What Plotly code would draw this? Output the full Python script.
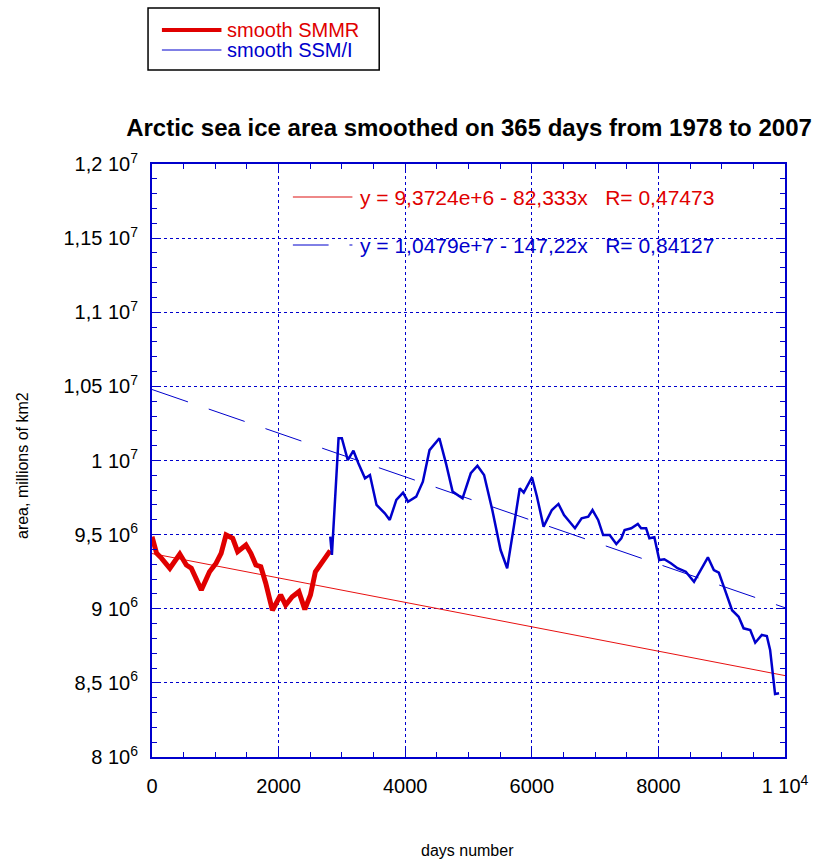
import plotly.graph_objects as go

# SMMR smoothed series (days, area km2)
smmr_days = [0, 73, 152, 282, 439, 543, 621, 779, 909, 1013, 1092, 1170, 1275, 1353, 1484,
             1562, 1641, 1719, 1797, 1902, 2032, 2111, 2215, 2320, 2414, 2503, 2581, 2685, 2816]
smmr_area = [9.486e6, 9.374e6, 9.34e6, 9.273e6, 9.369e6, 9.295e6, 9.273e6, 9.126e6, 9.25e6,
             9.307e6, 9.374e6, 9.498e6, 9.475e6, 9.385e6, 9.43e6, 9.374e6, 9.295e6, 9.284e6,
             9.172e6, 8.99e6, 9.093e6, 9.025e6, 9.081e6, 9.115e6, 8.996e6, 9.093e6, 9.25e6,
             9.317e6, 9.392e6]

# SSM/I smoothed series
ssmi_days = [2816, 2842, 2947, 2999, 3093, 3182, 3260, 3365, 3443, 3547, 3678, 3756, 3860,
             3966, 4044, 4174, 4279, 4384, 4540, 4644, 4749, 4906, 5036, 5141, 5246, 5376,
             5507, 5611, 5716, 5810, 5873, 6003, 6082, 6186, 6317, 6421, 6509, 6682, 6787,
             6892, 6959, 7048, 7127, 7230, 7335, 7414, 7466, 7571, 7675, 7727, 7806, 7858,
             7936, 8014, 8093, 8197, 8302, 8433, 8563, 8668, 8782, 8876, 8955, 9033, 9164,
             9268, 9346, 9451, 9530, 9634, 9713, 9765, 9843, 9906]
ssmi_area = [9.486e6, 9.363e6, 10.15e6, 10.15e6, 10.003e6, 10.066e6, 9.981e6, 9.88e6, 9.902e6,
             9.70e6, 9.644e6, 9.599e6, 9.734e6, 9.783e6, 9.722e6, 9.756e6, 9.857e6, 10.07e6,
             10.15e6, 9.981e6, 9.79e6, 9.745e6, 9.914e6, 9.965e6, 9.902e6, 9.666e6, 9.396e6,
             9.273e6, 9.554e6, 9.813e6, 9.783e6, 9.887e6, 9.756e6, 9.554e6, 9.666e6, 9.707e6,
             9.632e6, 9.543e6, 9.61e6, 9.621e6, 9.666e6, 9.599e6, 9.497e6, 9.497e6, 9.437e6,
             9.475e6, 9.531e6, 9.543e6, 9.572e6, 9.543e6, 9.543e6, 9.475e6, 9.482e6, 9.329e6,
             9.334e6, 9.307e6, 9.273e6, 9.25e6, 9.182e6, 9.261e6, 9.347e6, 9.261e6, 9.243e6,
             9.149e6, 8.99e6, 8.946e6, 8.868e6, 8.857e6, 8.771e6, 8.823e6, 8.816e6, 8.722e6,
             8.425e6, 8.43e6]

# Linear fits
fit_x = [0, 10000]
smmr_fit_a, smmr_fit_b = 9.3724e6, -82.333
ssmi_fit_a, ssmi_fit_b = 1.0479e7, -147.22

x_tickvals = [0, 2000, 4000, 6000, 8000, 10000]
x_ticktext = ["0", "2000", "4000", "6000", "8000", "1 10<sup>4</sup>"]
y_tickvals = [8.0e6, 8.5e6, 9.0e6, 9.5e6, 1.0e7, 1.05e7, 1.1e7, 1.15e7, 1.2e7]
y_ticktext = ["8 10<sup>6</sup>", "8,5 10<sup>6</sup>", "9 10<sup>6</sup>", "9,5 10<sup>6</sup>",
              "1 10<sup>7</sup>", "1,05 10<sup>7</sup>", "1,1 10<sup>7</sup>",
              "1,15 10<sup>7</sup>", "1,2 10<sup>7</sup>"]

RED = "#e00000"
BLUE = "#0000cc"
FONT = "Liberation Sans, Arial, sans-serif"

# plot area in pixels
L, R, T, B = 152, 790, 164, 757
W, H = R - L, B - T


def px(x):
    return (x - L) / W


def py(y):
    return (B - y) / H


fig = go.Figure()
fig.add_trace(go.Scatter(x=fit_x, y=[smmr_fit_a + smmr_fit_b * v for v in fit_x], mode="lines",
                         line=dict(color="#e81010", width=1), showlegend=False, hoverinfo="skip"))
fig.add_trace(go.Scatter(x=fit_x, y=[ssmi_fit_a + ssmi_fit_b * v for v in fit_x], mode="lines",
                         line=dict(color=BLUE, width=1, dash="38px,22px"), showlegend=False,
                         hoverinfo="skip"))
fig.add_trace(go.Scatter(x=smmr_days, y=smmr_area, mode="lines", name="smooth SMMR",
                         line=dict(color=RED, width=5), showlegend=False))
fig.add_trace(go.Scatter(x=ssmi_days, y=ssmi_area, mode="lines", name="smooth SSM/I",
                         line=dict(color=BLUE, width=2.5), showlegend=False))

axis_common = dict(showline=True, linecolor=BLUE, linewidth=2, mirror="ticks",
                   ticks="inside", tickcolor=BLUE, ticklen=8, tickwidth=1,
                   showgrid=True, gridcolor=BLUE, griddash="dot", gridwidth=1,
                   zeroline=False, tickfont=dict(size=20, color="black", family=FONT))

fig.update_xaxes(range=[0, 10000], tickvals=x_tickvals, ticktext=x_ticktext,
                 ticklabelstandoff=10,
                 minor=dict(ticks="inside", dtick=500, tick0=0, ticklen=5, tickcolor=BLUE,
                            showgrid=False),
                 **axis_common)
fig.update_yaxes(range=[8.0e6, 1.2e7], tickvals=y_tickvals, ticktext=y_ticktext,
                 ticklabelstandoff=8,
                 minor=dict(ticks="inside", dtick=1e5, tick0=8e6, ticklen=5, tickcolor=BLUE,
                            showgrid=False),
                 **axis_common)

shapes = [
    # fit legend inside plot
    dict(type="line", xref="paper", yref="paper", x0=px(294), x1=px(354),
         y0=py(197), y1=py(197), line=dict(color="#e86060", width=1.5)),
    dict(type="line", xref="paper", yref="paper", x0=px(294), x1=px(330),
         y0=py(245), y1=py(245), line=dict(color=BLUE, width=1)),
    dict(type="line", xref="paper", yref="paper", x0=px(351), x1=px(354),
         y0=py(245), y1=py(245), line=dict(color=BLUE, width=1)),
    # series legend box
    dict(type="rect", xref="paper", yref="paper", x0=px(148), x1=px(381),
         y0=py(70), y1=py(8), line=dict(color="black", width=1.5), fillcolor="white"),
    dict(type="line", xref="paper", yref="paper", x0=px(162), x1=px(222),
         y0=py(30), y1=py(30), line=dict(color=RED, width=4)),
    dict(type="line", xref="paper", yref="paper", x0=px(162), x1=px(222),
         y0=py(50), y1=py(50), line=dict(color=BLUE, width=1)),
]
annotations = [
    dict(xref="paper", yref="paper", x=px(360), y=py(197), xanchor="left",
         yanchor="middle", showarrow=False,
         text="y = 9,3724e+6 - 82,333x   R= 0,47473", font=dict(size=21, color=RED, family=FONT)),
    dict(xref="paper", yref="paper", x=px(360), y=py(245), xanchor="left",
         yanchor="middle", showarrow=False,
         text="y = 1,0479e+7 - 147,22x   R= 0,84127", font=dict(size=21, color=BLUE, family=FONT)),
    dict(xref="paper", yref="paper", x=px(226), y=py(30), xanchor="left", yanchor="middle",
         showarrow=False, text="smooth SMMR", font=dict(size=20, color=RED, family=FONT)),
    dict(xref="paper", yref="paper", x=px(226), y=py(50), xanchor="left", yanchor="middle",
         showarrow=False, text="smooth SSM/I", font=dict(size=20, color=BLUE, family=FONT)),
    dict(xref="paper", yref="paper", x=px(470), y=py(850), xanchor="center", yanchor="middle",
         showarrow=False, text="days number", font=dict(size=16, color="black", family=FONT)),
    dict(xref="paper", yref="paper", x=px(22), y=py(466), xanchor="center", yanchor="middle",
         showarrow=False, textangle=-90, text="area, millions of km2",
         font=dict(size=16, color="black", family=FONT)),
]

fig.update_layout(
    width=821, height=859,
    margin=dict(l=L, r=821 - R, t=T, b=859 - B),
    plot_bgcolor="white", paper_bgcolor="white",
    title=dict(text="<b>Arctic sea ice area smoothed on 365 days from 1978 to 2007</b>",
               x=469 / 821, xanchor="center", y=1 - 128 / 859, yanchor="middle",
               font=dict(size=24, color="black", family=FONT)),
    shapes=shapes, annotations=annotations,
    showlegend=False,
)

fig.write_html("out.html", config={"displayModeBar": False},
               post_script="document.body.style.margin='0px';")
